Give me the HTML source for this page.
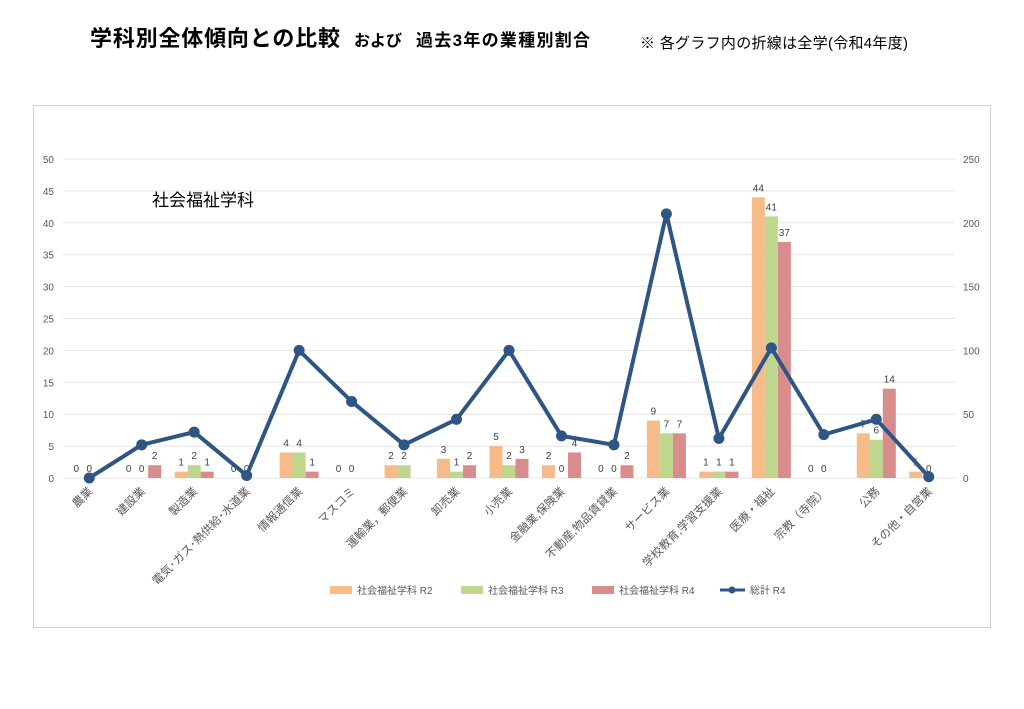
<!DOCTYPE html>
<html><head><meta charset="utf-8"><style>
body{margin:0;background:#fff;width:1024px;height:709px;overflow:hidden;font-family:"Liberation Sans","Noto Sans CJK JP",sans-serif}
</style></head><body>
<svg id="s" width="1024" height="709" xmlns="http://www.w3.org/2000/svg" style="position:absolute;left:0;top:0;font-family:'Liberation Sans','Noto Sans CJK JP',sans-serif">
<text x="90" y="46" font-size="22" font-weight="bold" fill="#000" textLength="250">学科別全体傾向との比較</text>
<text x="354" y="46" font-size="16" font-weight="bold" fill="#000">および</text>
<text x="416" y="46" font-size="17" font-weight="bold" fill="#000" textLength="174">過去3年の業種別割合</text>
<text x="640" y="48" font-size="15" fill="#000" textLength="268">※ 各グラフ内の折線は全学(令和4年度)</text>
<rect x="33.5" y="105.5" width="957" height="522" fill="none" stroke="#d0d0d0"/>
<text x="152" y="206" font-size="17" fill="#000">社会福祉学科</text>
<g id="g"></g>
</svg>
<script>
var g=document.getElementById('g'),h='';
var cats=["農業","建設業","製造業","電気･ガス･熱供給･水道業","情報通信業","マスコミ","運輸業，郵便業","卸売業","小売業","金融業,保険業","不動産,物品賃貸業","サービス業","学校教育,学習支援業","医療・福祉","宗教（寺院）","公務","その他・自営業"];
var r2=[0,0,1,0,4,0,2,3,5,2,0,9,1,44,0,7,1],r3=[0,0,2,0,4,0,2,1,2,0,0,7,1,41,0,6,0],r4=[0,2,1,0,1,0,0,2,3,4,2,7,1,37,0,14,0];
var ln=[0,26,36,2,100,60,26,46,100,33,26,207,31,102,34,46,1];
var x0=63,W=892,cw=W/17,y0=478,ppu=6.38;
for(var i=0;i<=10;i++){var y=y0-i*5*ppu;h+='<line x1="63" x2="955" y1="'+y+'" y2="'+y+'" stroke="#e4e4e4"/>';
h+='<text x="54" y="'+(y+4)+'" font-size="10" fill="#595959" text-anchor="end">'+(i*5)+'</text>';
if(i%2==0)h+='<text x="963" y="'+(y+4)+'" font-size="10" fill="#595959">'+(i*25)+'</text>';}
var cols=["#f7bb8a","#bfd68e","#d98c8c"],data=[r2,r3,r4];
for(var c=0;c<17;c++){var cx=x0+(c+0.5)*cw;
for(var k=0;k<3;k++){var v=data[k][c],bx=cx-19.5+k*13,bh=v*ppu;
if(v>0)h+='<rect x="'+bx+'" y="'+(y0-bh)+'" width="13" height="'+bh+'" fill="'+cols[k]+'"/>';
if(!(v==0&&k==2))h+='<text x="'+(bx+6.5)+'" y="'+(y0-bh-6)+'" font-size="10" fill="#404040" text-anchor="middle">'+v+'</text>';}
h+='<text transform="translate('+(cx+4)+',492) rotate(-45)" font-size="11.5" fill="#595959" text-anchor="end">'+cats[c]+'</text>';}
var pts=ln.map(function(v,c){return (x0+(c+0.5)*cw)+','+(y0-v*1.276)});
h+='<polyline points="'+pts.join(' ')+'" fill="none" stroke="#2e5584" stroke-width="4" stroke-linejoin="round"/>';
pts.forEach(function(p){var a=p.split(',');h+='<circle cx="'+a[0]+'" cy="'+a[1]+'" r="5.5" fill="#2e5584"/>';});
var lg=[["社会福祉学科 R2",330,0],["社会福祉学科 R3",461,1],["社会福祉学科 R4",592,2]];
lg.forEach(function(l){h+='<rect x="'+l[1]+'" y="586" width="22" height="8" fill="'+cols[l[2]]+'"/><text x="'+(l[1]+27)+'" y="594" font-size="10" fill="#595959">'+l[0]+'</text>';});
h+='<line x1="720" x2="745" y1="590" y2="590" stroke="#2e5584" stroke-width="3"/><circle cx="732" cy="590" r="3.5" fill="#2e5584"/><text x="750" y="594" font-size="10" fill="#595959">総計 R4</text>';
g.innerHTML=h;
</script>
</body></html>
